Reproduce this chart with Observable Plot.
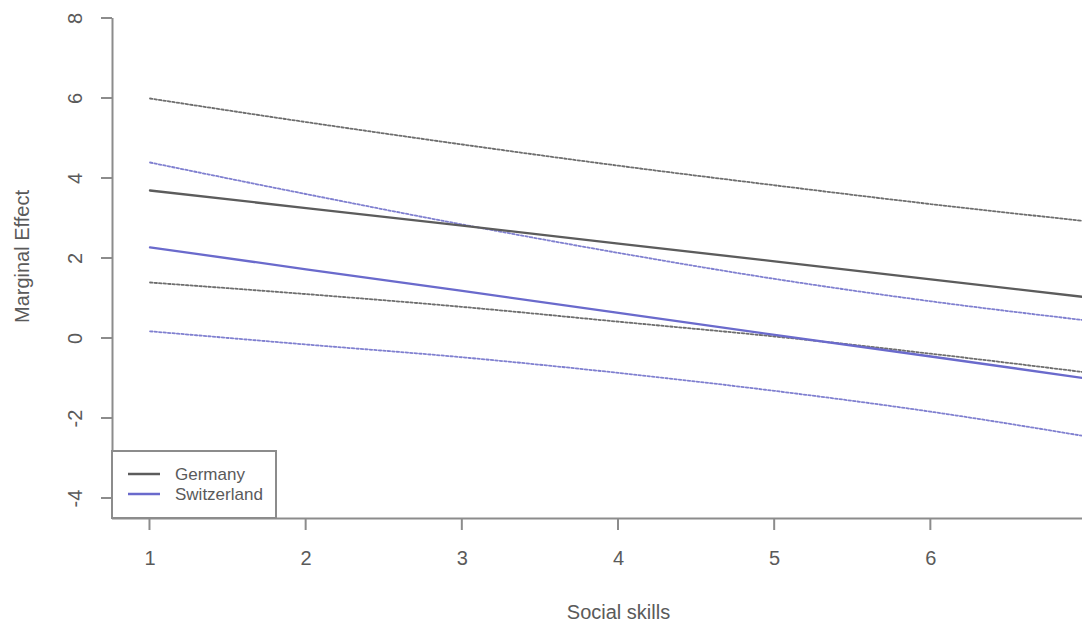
<!DOCTYPE html>
<html>
<head>
<meta charset="utf-8">
<script src="https://cdn.jsdelivr.net/npm/d3@7"></script>
<script src="https://cdn.jsdelivr.net/npm/@observablehq/plot@0.6"></script>
<style>
  html, body { margin: 0; padding: 0; background: #fff; overflow: hidden; }
  #chart svg { display: block; }
</style>
</head>
<body>
<div id="chart"></div>
<script>
// ---- data ----
const socialSkills = [1, 2, 3, 4, 5, 6, 7];
const germanyEst   = [3.70, 3.26, 2.82, 2.37, 1.93, 1.48, 1.03];
const germanyUpper = [6.00, 5.41, 4.85, 4.32, 3.83, 3.36, 2.93];
const germanyLower = [1.40, 1.11, 0.79, 0.42, 0.05, -0.38, -0.85];
const swissEst     = [2.28, 1.73, 1.19, 0.64, 0.09, -0.45, -1.00];
const swissUpper   = [4.40, 3.61, 2.85, 2.14, 1.49, 0.93, 0.45];
const swissLower   = [0.18, -0.15, -0.47, -0.86, -1.31, -1.83, -2.45];
const xTicks = [1, 2, 3, 4, 5, 6, 7];
const yTicks = [-4, -2, 0, 2, 4, 6, 8];
const countries = ["Germany", "Switzerland"];
const xLabel = "Social skills";
const yLabel = "Marginal Effect";

const colors = {Germany: "#5c5c5c", Switzerland: "#6a6acc"};
const ciColors = {Germany: "#6e6e6e", Switzerland: "#8080d0"};

function series(name, kind, ys) {
  return socialSkills.map((x, i) => ({country: name, kind, x, y: ys[i]}));
}
const estRows = [...series("Germany", "est", germanyEst), ...series("Switzerland", "est", swissEst)];
const ciRows = [
  ...series("Germany", "upper", germanyUpper), ...series("Germany", "lower", germanyLower),
  ...series("Switzerland", "upper", swissUpper), ...series("Switzerland", "lower", swissLower)
];

const W = 1082, H = 624;
const xMin = 0.76, xMax = 7.24, yMin = -4.5, yMax = 8;
const font = "'Liberation Sans', Arial, sans-serif";
const textColor = "#5a5a5a";
const axisColor = "#8c8c8c";

const plot = Plot.plot({
  width: W, height: H,
  marginLeft: 112, marginBottom: 106, marginTop: 18, marginRight: 0,
  style: {fontFamily: font, background: "#fff", overflow: "hidden"},
  x: {type: "linear", domain: [xMin, xMax], range: [112, 1124], axis: null},
  y: {type: "linear", domain: [yMin, yMax], range: [518, 18], axis: null},
  marks: [
    // CI lines (dotted)
    Plot.line(ciRows, {x: "x", y: "y", z: d => d.country + d.kind,
      stroke: d => ciColors[d.country], strokeWidth: 1.8, strokeDasharray: "2.5,2", curve: "monotone-x"}),
    // estimates (solid)
    Plot.line(estRows, {x: "x", y: "y", z: "country",
      stroke: d => colors[d.country], strokeWidth: 2.3}),
    // axis lines
    Plot.ruleX([xMin], {x: d => d, y1: yMax, y2: yMin, stroke: axisColor, strokeWidth: 2}),
    Plot.ruleY([yMin], {y: d => d, x1: xMin, x2: xMax, stroke: axisColor, strokeWidth: 2}),
    // x tick marks
    Plot.ruleX(xTicks, {x: d => d, y1: yMin, y2: yMin,
      render: (I, scales, values) => {
        const g = d3.create("svg:g");
        const y0 = scales.y(yMin);
        for (const i of I) {
          g.append("line").attr("x1", values.x[i]).attr("x2", values.x[i])
            .attr("y1", y0).attr("y2", y0 + 12)
            .attr("stroke", axisColor).attr("stroke-width", 2);
        }
        return g.node();
      }}),
    // y tick marks
    Plot.ruleY(yTicks, {y: d => d, x1: xMin, x2: xMin,
      render: (I, scales, values) => {
        const g = d3.create("svg:g");
        const x0 = scales.x(xMin);
        for (const i of I) {
          g.append("line").attr("x1", x0 - 11).attr("x2", x0)
            .attr("y1", values.y[i]).attr("y2", values.y[i])
            .attr("stroke", axisColor).attr("stroke-width", 2);
        }
        return g.node();
      }}),
    // tick labels
    Plot.text(xTicks, {x: d => d, y: d => yMin, dy: 40, text: d => String(d), fontSize: 20, fill: textColor, lineAnchor: "middle"}),
    Plot.text(yTicks, {x: d => xMin, y: d => d, dx: -37, text: d => String(d), fontSize: 20, fill: textColor, rotate: -90, lineAnchor: "middle"}),
    // axis titles
    Plot.text([xLabel], {x: d => 4, y: d => yMin, dy: 94, text: d => d, fontSize: 20, fill: textColor, lineAnchor: "middle"}),
    Plot.text([yLabel], {x: d => xMin, y: d => 2.05, dx: -90, text: d => d, fontSize: 20, fill: textColor, rotate: -90, lineAnchor: "middle"})
  ]
});

document.getElementById("chart").appendChild(plot);

// legend (R-style box, bottom-left inside the plot region)
const svg = d3.select(plot);
const lg = svg.append("g").attr("font-family", font).attr("text-anchor", "start");
lg.append("rect").attr("x", 112).attr("y", 451).attr("width", 164).attr("height", 67)
  .attr("fill", "#fff").attr("stroke", axisColor).attr("stroke-width", 2);
countries.forEach((c, i) => {
  const yy = 474 + i * 20;
  lg.append("line").attr("x1", 128).attr("x2", 160).attr("y1", yy).attr("y2", yy)
    .attr("stroke", colors[c]).attr("stroke-width", 2.5);
  lg.append("text").attr("x", 175).attr("y", yy).attr("dy", "0.35em")
    .attr("font-size", 17).attr("fill", textColor).text(c);
});
</script>
</body>
</html>
